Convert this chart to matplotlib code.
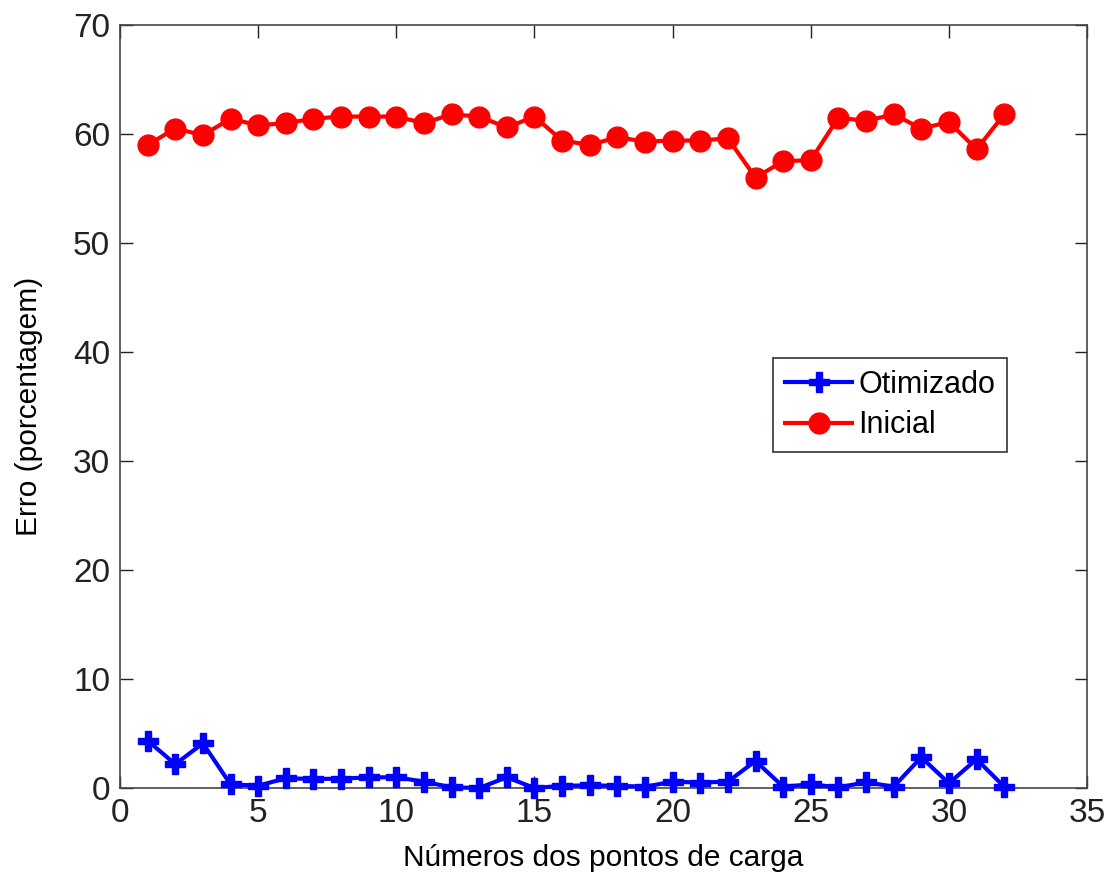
import numpy as np
import matplotlib
matplotlib.use('Agg')
import matplotlib.pyplot as plt

# values
pontos = np.arange(1, 33)
otimizado = [4.35, 2.18, 4.1, 0.34, 0.21, 0.89, 0.83, 0.85, 0.98, 0.98,
             0.58, 0.06, 0.0, 0.98, 0.0, 0.2, 0.24, 0.2, 0.12, 0.58,
             0.5, 0.58, 2.48, 0.12, 0.34, 0.06, 0.52, 0.12, 2.82, 0.43,
             2.64, 0.12]
inicial = [59.0, 60.5, 59.9, 61.4, 60.8, 61.0, 61.4, 61.6, 61.6, 61.6,
           61.0, 61.8, 61.6, 60.6, 61.6, 59.4, 59.0, 59.7, 59.3, 59.4,
           59.4, 59.6, 56.0, 57.5, 57.6, 61.5, 61.2, 61.8, 60.5, 61.1,
           58.6, 61.8]

plt.rcParams['font.family'] = ['Liberation Sans', 'DejaVu Sans']

fig = plt.figure(figsize=(11.07, 8.74), dpi=100)
ax = fig.add_axes([0.1084, 0.0984, 0.8736, 0.873])

ax.plot(pontos, otimizado, color='blue', lw=3, marker='P', markersize=14,
        label='Otimizado', clip_on=False, zorder=3)
ax.plot(pontos, inicial, color='red', lw=3, marker='o', markersize=15,
        label='Inicial', clip_on=False, zorder=3)

ax.set_xlim(0, 35)
ax.set_ylim(0, 70)
ax.set_xticks(range(0, 36, 5))
ax.set_yticks(range(0, 71, 10))
ax.tick_params(direction='in', length=9, width=1, top=True, right=True,
               labelsize=24, colors='#222222', pad=7)
for s in ax.spines.values():
    s.set_color('#444444')
    s.set_linewidth(1.2)

ax.set_xlabel('Números dos pontos de carga', fontsize=21.5, labelpad=11)
ax.set_ylabel('Erro (porcentagem)', fontsize=21.5, labelpad=22)

leg = ax.legend(loc='upper left', bbox_to_anchor=(0.675, 0.5636), fontsize=22,
                fancybox=False, framealpha=1, edgecolor='#333333',
                handlelength=2.2, borderpad=0.4, labelspacing=0.33,
                handletextpad=0.2, borderaxespad=0)
leg.get_frame().set_linewidth(1.2)

fig.savefig('out.png', dpi=100)
